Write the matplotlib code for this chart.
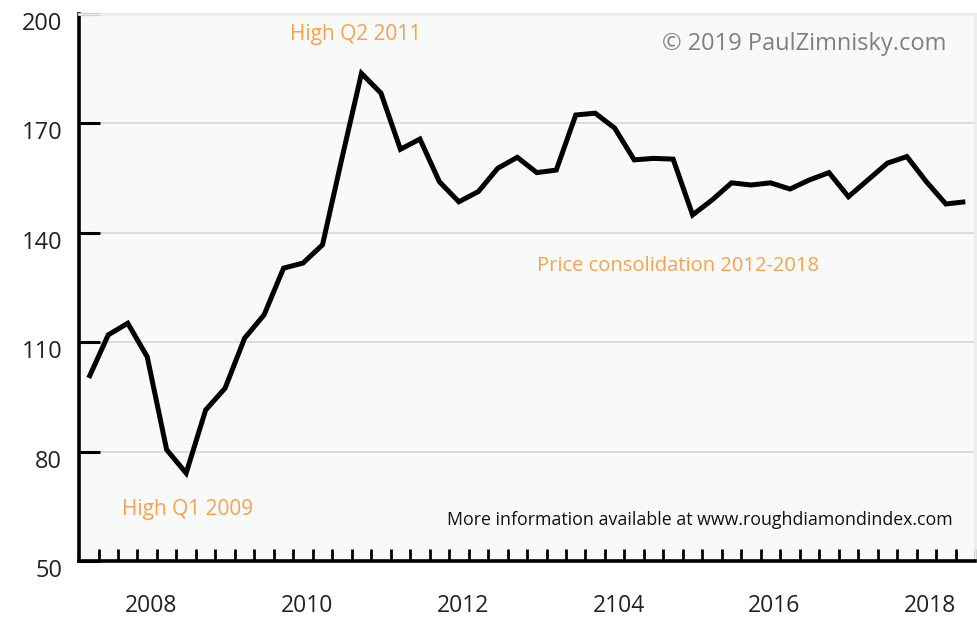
import matplotlib
matplotlib.use("Agg")
import matplotlib.pyplot as plt
import matplotlib.transforms as mtransforms
import numpy as np

# quarterly rough diamond price index, 46 quarters
index_values = [100.2, 112.0, 115.2, 106.0, 80.5, 74.1, 91.4, 97.4, 111.1, 117.5,
                130.3, 131.7, 136.7, 160.5, 183.7, 178.3, 162.9, 165.7, 154.0, 148.5,
                151.3, 157.7, 160.7, 156.5, 157.2, 172.3, 172.8, 168.7, 160.0, 160.4,
                160.2, 144.9, 149.0, 153.7, 153.1, 153.7, 152.0, 154.5, 156.5, 149.9,
                154.5, 159.1, 160.9, 154.0, 147.9, 148.5]
year_labels = ["2008", "2010", "2012", "2104", "2016", "2018"]
y_ticks = [50, 80, 110, 140, 170, 200]

ORANGE = "#f7a24a"
plt.rcParams["font.family"] = ["Open Sans", "DejaVu Sans"]

fig = plt.figure(figsize=(9.78, 6.21), dpi=100)
ax = fig.add_axes([0.0808, 0.0966, 0.9162, 0.8809])
ax.set_facecolor("#f8f9f9")

n = len(index_values)
x = np.arange(n) + 0.5
ax.plot(x, index_values, color="black", lw=3.6, solid_joinstyle="miter",
        solid_capstyle="butt", zorder=3)

ax.set_xlim(0, n)
ax.set_ylim(50, 200)

# gridlines
for v in y_ticks[1:-1]:
    ax.axhline(v, color="#d6d6d6", lw=1.2, zorder=1)

# y axis
ax.set_yticks(y_ticks)
ax.set_yticklabels([str(v) for v in y_ticks], fontsize=17, color="#222222")
ax.tick_params(axis="y", direction="in", length=15, width=2.2, pad=12, color="black")
offset = mtransforms.ScaledTranslation(0, -7 / 100, fig.dpi_scale_trans)
for lbl in ax.get_yticklabels():
    lbl.set_transform(lbl.get_transform() + offset)

# x axis: quarterly ticks, year labels as minor ticks
ax.set_xticks(np.arange(1, n + 1))
ax.set_xticklabels([])
ax.tick_params(axis="x", which="major", direction="in", length=9, width=2.0, color="black")
ax.set_xticks([3.7 + 8 * k for k in range(len(year_labels))], minor=True)
ax.set_xticklabels(year_labels, minor=True, fontsize=16.5, color="#222222")
ax.tick_params(axis="x", which="minor", length=0, pad=24)

for side in ["left", "bottom"]:
    ax.spines[side].set_linewidth(2.6)
    ax.spines[side].set_color("black")
for side in ["top", "right"]:
    ax.spines[side].set_linewidth(2.0)
    ax.spines[side].set_color("#ececec")

# annotations
ax.text(0.236, 0.962, "High Q2 2011", transform=ax.transAxes, color=ORANGE,
        fontsize=15, ha="left", va="center")
ax.text(0.968, 0.945, "\u00a9 2019 PaulZimnisky.com", transform=ax.transAxes,
        color="#808080", fontsize=17, ha="right", va="center")
ax.text(0.511, 0.54, "Price consolidation 2012-2018", transform=ax.transAxes,
        color=ORANGE, fontsize=14.5, ha="left", va="center")
ax.text(0.048, 0.094, "High Q1 2009", transform=ax.transAxes, color=ORANGE,
        fontsize=15, ha="left", va="center")
ax.text(0.975, 0.075, "More information available at www.roughdiamondindex.com",
        transform=ax.transAxes, color="#111111", fontsize=12.8, ha="right", va="center")

fig.savefig("out.png", dpi=100)
